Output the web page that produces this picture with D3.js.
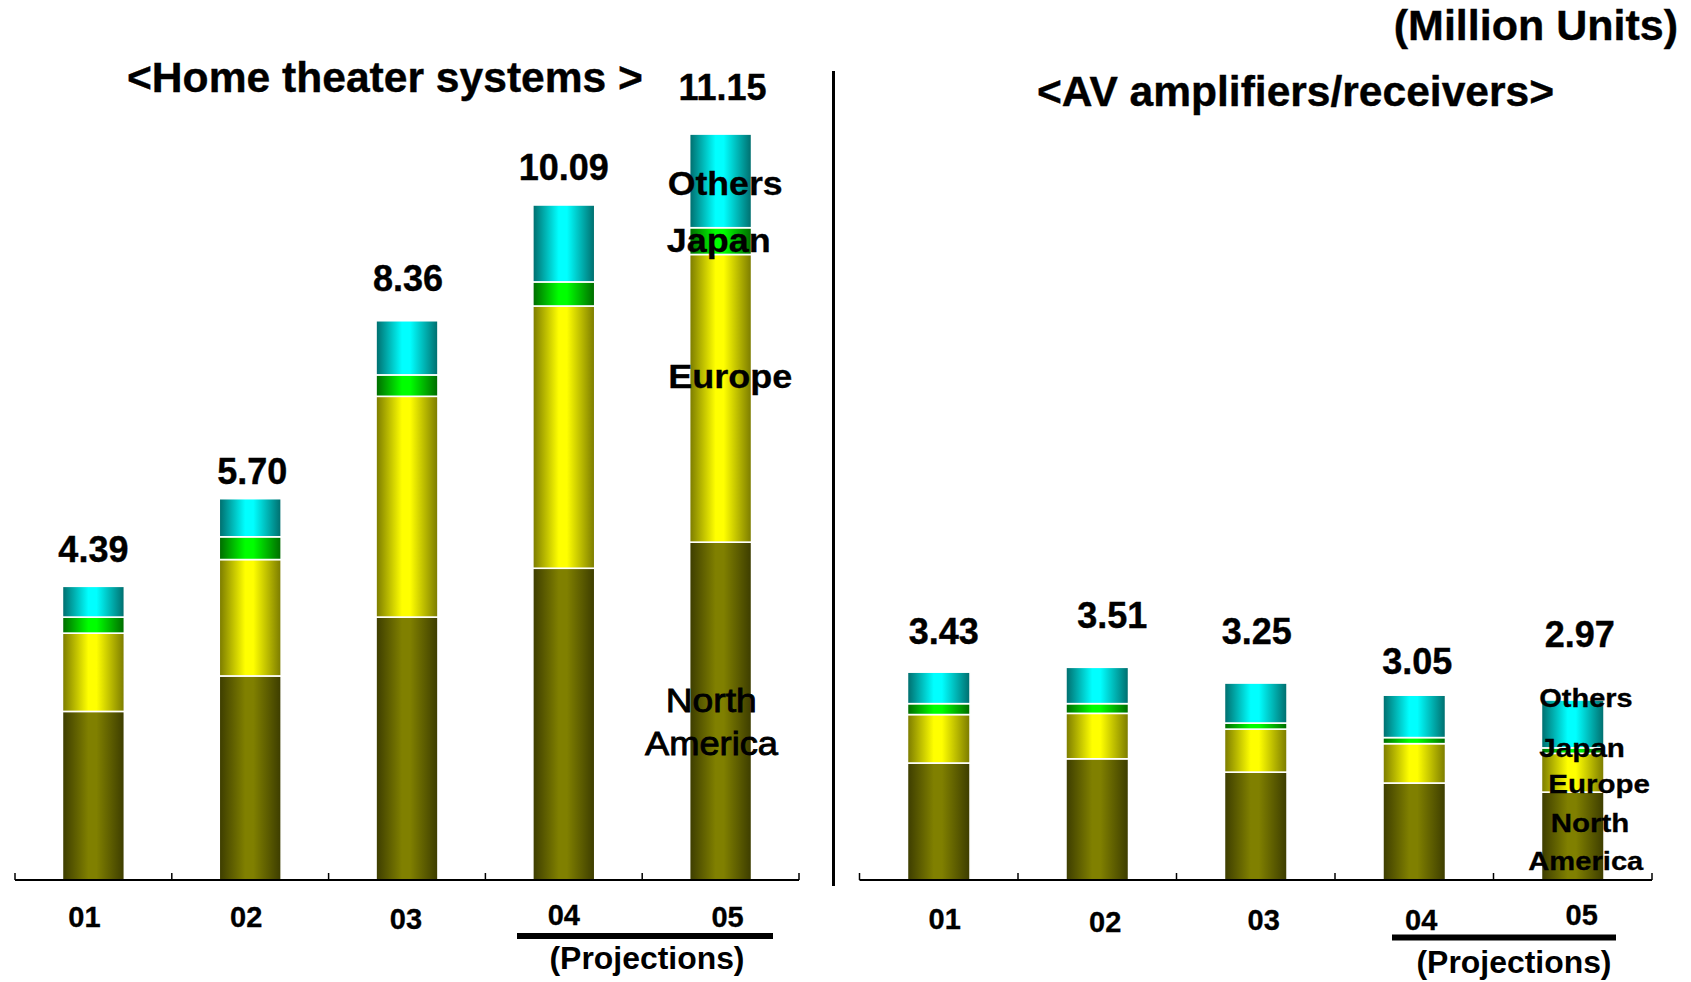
<!DOCTYPE html>
<html>
<head>
<meta charset="utf-8">
<script src="https://cdn.jsdelivr.net/npm/d3@7"></script>
<style>
  html, body { margin: 0; padding: 0; background: #fff; }
  svg { display: block; }
  text { font-family: "Liberation Sans", Arial, sans-serif; fill: #000; }
</style>
</head>
<body>
<svg id="chart" width="1691" height="982"></svg>
<script>
// ---- data (million units) ----
const years = ["01", "02", "03", "04", "05"];
const regions = ["North America", "Europe", "Japan", "Others"];

// Home theater systems
const htsNorthAmerica = [2.52, 3.05, 3.93, 4.66, 5.05];
const htsEurope       = [1.17, 1.74, 3.30, 3.92, 4.30];
const htsJapan        = [0.24, 0.34, 0.32, 0.36, 0.40];
const htsOthers       = [0.46, 0.57, 0.81, 1.15, 1.40];
const htsTotals       = [4.39, 5.70, 8.36, 10.09, 11.15];

// AV amplifiers / receivers
const avNorthAmerica = [1.93, 2.00, 1.78, 1.60, 1.45];
const avEurope       = [0.80, 0.75, 0.71, 0.65, 0.64];
const avJapan        = [0.18, 0.16, 0.10, 0.10, 0.09];
const avOthers       = [0.52, 0.60, 0.66, 0.70, 0.79];
const avTotals       = [3.43, 3.51, 3.25, 3.05, 2.97];

const titleLeft = "<Home theater systems >";
const titleRight = "<AV amplifiers/receivers>";
const unitLabel = "(Million Units)";
const projectionLabel = "(Projections)";

// ---- drawing ----
const svg = d3.select("#chart");
const defs = svg.append("defs");

// cylinder-like shading: dark edges, bright centre
const shades = {
  "North America": ["#3c3c00", "#808000", "#3c3c00"],
  "Europe":        ["#7a7a00", "#ffff00", "#7a7a00"],
  "Japan":         ["#006a00", "#00ff00", "#006a00"],
  "Others":        ["#006c6c", "#00ffff", "#006c6c"]
};
regions.forEach((r, i) => {
  const g = defs.append("linearGradient")
    .attr("id", "grad" + i)
    .attr("x1", 0).attr("x2", 1).attr("y1", 0).attr("y2", 0);
  const [edge, mid, edge2] = shades[r];
  g.append("stop").attr("offset", "0%").attr("stop-color", edge);
  g.append("stop").attr("offset", "42%").attr("stop-color", mid);
  g.append("stop").attr("offset", "55%").attr("stop-color", mid);
  g.append("stop").attr("offset", "100%").attr("stop-color", edge2);
});

function rows(na, eu, jp, ot) {
  return years.map((y, i) => ({
    year: y,
    "North America": na[i], "Europe": eu[i], "Japan": jp[i], "Others": ot[i]
  }));
}

const baseY = 880;

function panel(opt) {
  const x = d3.scaleBand().domain(years).range(opt.xRange).padding(0);
  const y = d3.scaleLinear().domain([0, 12]).range([baseY, baseY - 12 * opt.pxPerUnit]);
  const barW = x.bandwidth() * 0.395;
  const cx = d => x(d) + x.bandwidth() / 2;

  const series = d3.stack().keys(regions)(opt.data);
  const g = svg.append("g");

  g.selectAll("g.layer")
    .data(series)
    .join("g")
    .attr("class", "layer")
    .attr("fill", (s, i) => `url(#grad${i})`)
    .selectAll("rect")
    .data(s => s)
    .join("rect")
    .attr("x", d => cx(d.data.year) - barW / 2)
    .attr("width", barW)
    .attr("y", d => y(d[1]))
    .attr("height", d => y(d[0]) - y(d[1]))
    .attr("stroke", "#fff")
    .attr("stroke-width", 1.6);

  // axis line with upward ticks at band boundaries
  const [x0, x1] = opt.xRange;
  g.append("line")
    .attr("x1", x0).attr("x2", x1).attr("y1", baseY).attr("y2", baseY)
    .attr("stroke", "#000").attr("stroke-width", 2);
  const bounds = years.map(d => x(d)).concat([x1]);
  g.selectAll("line.tick")
    .data(bounds)
    .join("line")
    .attr("class", "tick")
    .attr("x1", d => d).attr("x2", d => d)
    .attr("y1", baseY).attr("y2", baseY - 7)
    .attr("stroke", "#000").attr("stroke-width", 1.5);

  // total labels
  g.selectAll("text.total")
    .data(opt.totals)
    .join("text")
    .attr("class", "total")
    .attr("x", (d, i) => cx(years[i]) + opt.totalNudge[i][0])
    .attr("y", (d, i) => y(d) - opt.totalNudge[i][1])
    .attr("text-anchor", "middle")
    .attr("font-weight", "bold")
    .attr("font-size", 36)
    .attr("stroke", "#000").attr("stroke-width", 0.4)
    .text(d => d.toFixed(2));

  // year labels
  g.selectAll("text.year")
    .data(years)
    .join("text")
    .attr("class", "year")
    .attr("x", (d, i) => cx(d) + opt.yearNudge[i][0])
    .attr("y", (d, i) => baseY + opt.yearNudge[i][1])
    .attr("text-anchor", "middle")
    .attr("font-weight", "bold")
    .attr("font-size", 29)
    .attr("stroke", "#000").attr("stroke-width", 0.3)
    .text(d => d);

  // projections bracket
  const p = opt.proj;
  g.append("rect")
    .attr("x", p.x0).attr("width", p.x1 - p.x0)
    .attr("y", p.y - 3).attr("height", 6)
    .attr("fill", "#000");
  g.append("text")
    .attr("x", p.tx).attr("y", p.ty)
    .attr("text-anchor", "middle")
    .attr("font-weight", "bold")
    .attr("font-size", 31)
    .attr("textLength", 195).attr("lengthAdjust", "spacingAndGlyphs")
    .text(projectionLabel);

  // region labels
  g.selectAll("text.region")
    .data(opt.regionLabels)
    .join("text")
    .attr("class", "region")
    .attr("x", d => d.x).attr("y", d => d.y)
    .attr("font-weight", d => d.bold ? "bold" : "normal")
    .attr("font-size", d => d.size)
    .attr("stroke", "#000").attr("stroke-width", d => d.bold ? 0.3 : 0.9)
    .attr("textLength", d => d.w).attr("lengthAdjust", "spacingAndGlyphs")
    .text(d => d.t);
}

panel({
  data: rows(htsNorthAmerica, htsEurope, htsJapan, htsOthers),
  totals: htsTotals,
  xRange: [15, 799],
  pxPerUnit: 66.9,
  totalNudge: [[0, 24], [2, 15], [1, 30], [0, 25], [2, 34]],
  yearNudge: [[-9, 47], [-4, 47], [-1, 49], [0, 45], [7, 47]],
  proj: { x0: 517, x1: 773, y: 936, tx: 647, ty: 969 },
  regionLabels: [
    { t: "Others",  x: 667.7, y: 195,   w: 115, size: 33, bold: true },
    { t: "Japan",   x: 666.7, y: 251.7, w: 104, size: 33, bold: true },
    { t: "Europe",  x: 668.3, y: 388.3, w: 124, size: 33, bold: true },
    { t: "North",   x: 665.7, y: 711.7, w: 91,  size: 34, bold: false },
    { t: "America", x: 645,   y: 755,   w: 133, size: 34, bold: false }
  ]
});

panel({
  data: rows(avNorthAmerica, avEurope, avJapan, avOthers),
  totals: avTotals,
  xRange: [859.5, 1652],
  pxPerUnit: 60.6,
  totalNudge: [[5, 28], [15, 39], [1, 39], [3, 21], [7, 53]],
  yearNudge: [[6, 48.5], [8, 51.7], [8, 49.6], [7, 50], [9, 45]],
  proj: { x0: 1392, x1: 1616, y: 937.5, tx: 1514, ty: 973 },
  regionLabels: [
    { t: "Others",  x: 1539.3, y: 706.7, w: 93.4,  size: 26, bold: true },
    { t: "Japan",   x: 1539.3, y: 756.7, w: 85.7,  size: 26, bold: true },
    { t: "Europe",  x: 1548.3, y: 793.3, w: 101.7, size: 26, bold: true },
    { t: "North",   x: 1550.7, y: 831.7, w: 78.6,  size: 26, bold: true },
    { t: "America", x: 1528.3, y: 870,   w: 115,   size: 26, bold: true }
  ]
});

// divider between the two panels
svg.append("line")
  .attr("x1", 833.5).attr("x2", 833.5).attr("y1", 71).attr("y2", 886)
  .attr("stroke", "#000").attr("stroke-width", 3);

// titles
svg.append("text")
  .attr("x", 127).attr("y", 92)
  .attr("font-weight", "bold").attr("font-size", 43)
  .attr("stroke", "#000").attr("stroke-width", 0.4)
  .attr("textLength", 516).attr("lengthAdjust", "spacingAndGlyphs")
  .text(titleLeft);
svg.append("text")
  .attr("x", 1037).attr("y", 106)
  .attr("font-weight", "bold").attr("font-size", 43)
  .attr("stroke", "#000").attr("stroke-width", 0.4)
  .attr("textLength", 517).attr("lengthAdjust", "spacingAndGlyphs")
  .text(titleRight);
svg.append("text")
  .attr("x", 1678).attr("y", 40)
  .attr("text-anchor", "end")
  .attr("font-weight", "bold").attr("font-size", 43)
  .attr("stroke", "#000").attr("stroke-width", 0.4)
  .text(unitLabel);
</script>
</body>
</html>
